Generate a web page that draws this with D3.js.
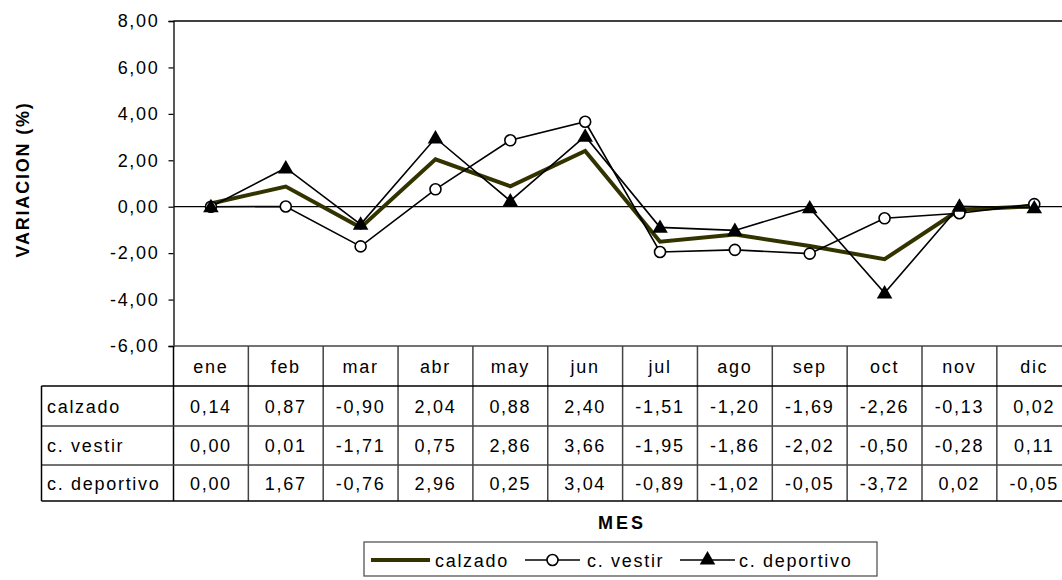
<!DOCTYPE html>
<html><head><meta charset="utf-8">
<script src="https://cdn.jsdelivr.net/npm/d3@7"></script>
<style>
html,body{margin:0;padding:0;background:#fff;overflow:hidden}
svg{display:block;font-family:"Liberation Sans",Arial,sans-serif}
</style></head><body>
<svg id="c" width="1062" height="580"></svg>
<script>
const months = ["ene","feb","mar","abr","may","jun","jul","ago","sep","oct","nov","dic"];
const seriesNames = ["calzado","c. vestir","c. deportivo"];
const calzado = [0.14,0.87,-0.90,2.04,0.88,2.40,-1.51,-1.20,-1.69,-2.26,-0.13,0.02];
const vestir = [0.00,0.01,-1.71,0.75,2.86,3.66,-1.95,-1.86,-2.02,-0.50,-0.28,0.11];
const deportivo = [0.00,1.67,-0.76,2.96,0.25,3.04,-0.89,-1.02,-0.05,-3.72,0.02,-0.05];
const yTicks = [-6,-4,-2,0,2,4,6,8];

const series = [
  {name: seriesNames[0], values: calzado, color: "#333300", width: 4, marker: "none"},
  {name: seriesNames[1], values: vestir, color: "#000", width: 1.6, marker: "circle"},
  {name: seriesNames[2], values: deportivo, color: "#000", width: 1.6, marker: "triangle"}
];

const svg = d3.select("#c");
const fmt = v => d3.format(".2f")(v).replace(".", ",").replace("−","-");
const L = 173.5, colW = 74.85, T = 21, B = 346;
const x = d3.scaleBand().domain(months).range([L, L + colW*12]).padding(0);
const y = d3.scaleLinear().domain([-6, 8]).range([B, T]);
const FS = 18, LS = "1.7px";

// plot border
svg.append("line").attr("x1", L).attr("x2", L + colW*12).attr("y1", T).attr("y2", T).attr("stroke", "#000").attr("stroke-width", 1.3);
// zero line
svg.append("line").attr("x1", L).attr("x2", L + colW*12).attr("y1", y(0)).attr("y2", y(0)).attr("stroke", "#000").attr("stroke-width", 1.2);

// y axis
const yAxis = d3.axisLeft(y).tickValues(yTicks).tickSize(5).tickPadding(9).tickFormat(fmt);
const gy = svg.append("g").attr("transform", `translate(${L},0)`).call(yAxis);
gy.select(".domain").attr("stroke", "#000").attr("stroke-width", 1.3);
gy.selectAll(".tick line").attr("stroke", "#000").attr("stroke-width", 1.2);
gy.selectAll(".tick text").attr("font-size", FS).attr("letter-spacing", LS).attr("fill", "#000")
  .attr("font-family", "Liberation Sans, Arial, sans-serif");

// y label
svg.append("text").attr("transform", `translate(29,${(T+B)/2 - 4}) rotate(-90)`)
  .attr("text-anchor", "middle").attr("font-size", 18).attr("font-weight", "bold").attr("letter-spacing", "1.8px").text("VARIACION (%)");

// lines
const line = d3.line().x((d,i) => x(months[i]) + x.bandwidth()/2).y(d => y(d));
series.forEach(s => {
  svg.append("path").datum(s.values).attr("d", line).attr("fill", "none")
    .attr("stroke", s.color).attr("stroke-width", s.width).attr("stroke-linejoin", "miter");
});
// markers
const tri = d3.symbol().type(d3.symbolTriangle).size(105);
series.forEach(s => {
  if (s.marker === "circle") {
    svg.selectAll(null).data(s.values).enter().append("circle")
      .attr("cx", (d,i) => x(months[i]) + x.bandwidth()/2).attr("cy", d => y(d)).attr("r", 5.5)
      .attr("fill", "#fff").attr("stroke", "#000").attr("stroke-width", 1.6);
  } else if (s.marker === "triangle") {
    svg.selectAll(null).data(s.values).enter().append("path")
      .attr("d", tri).attr("transform", (d,i) => `translate(${x(months[i]) + x.bandwidth()/2},${y(d)+1})`)
      .attr("fill", "#000");
  }
});

// data table
const rowY = [346, 386, 426, 465, 501];
const tbl = svg.append("g");
const gridC = "#444";
months.forEach((m,i) => {
  if (i > 0) tbl.append("line").attr("x1", x(m)).attr("x2", x(m)).attr("y1", rowY[0]).attr("y2", rowY[4]).attr("stroke", gridC).attr("stroke-width", 1.5);
});
tbl.append("line").attr("x1", L).attr("x2", L).attr("y1", rowY[0]).attr("y2", rowY[4]).attr("stroke", "#000").attr("stroke-width", 1.5);
tbl.append("line").attr("x1", L).attr("x2", L+colW*12).attr("y1", rowY[0]).attr("y2", rowY[0]).attr("stroke", gridC).attr("stroke-width", 1.5);
[1,2,3,4].forEach(k => {
  tbl.append("line").attr("x1", 41.5).attr("x2", L+colW*12).attr("y1", rowY[k]).attr("y2", rowY[k])
    .attr("stroke", (k===1||k===4) ? "#000" : gridC).attr("stroke-width", 1.5);
});
tbl.append("line").attr("x1", 41.5).attr("x2", 41.5).attr("y1", rowY[1]).attr("y2", rowY[4]).attr("stroke", "#000").attr("stroke-width", 1.5);
months.forEach(m => {
  tbl.append("text").attr("x", x(m) + x.bandwidth()/2).attr("y", (rowY[0]+rowY[1])/2 + 6.5)
    .attr("text-anchor", "middle").attr("font-size", FS).attr("letter-spacing", LS).text(m);
});
series.forEach((s,k) => {
  const cy = (rowY[k+1]+rowY[k+2])/2 + 6.5;
  tbl.append("text").attr("x", 47).attr("y", cy).attr("font-size", FS).attr("letter-spacing", LS).text(s.name);
  s.values.forEach((v,i) => {
    tbl.append("text").attr("x", x(months[i]) + x.bandwidth()/2).attr("y", cy)
      .attr("text-anchor", "middle").attr("font-size", FS).attr("letter-spacing", LS).text(fmt(v));
  });
});

// x title
svg.append("text").attr("x", 622).attr("y", 529).attr("text-anchor", "middle")
  .attr("font-size", 18).attr("font-weight", "bold").attr("letter-spacing", "3px").text("MES");

// legend
const lg = svg.append("g");
lg.append("rect").attr("x", 364).attr("y", 542).attr("width", 513).attr("height", 34)
  .attr("fill", "#fff").attr("stroke", "#555").attr("stroke-width", 1.3);
const ly = 560;
const legX = [[371, 430, 435], [525, 580, 587], [680, 735, 739]];
series.forEach((s,k) => {
  const [a,b,t] = legX[k];
  lg.append("line").attr("x1", a).attr("x2", b).attr("y1", ly).attr("y2", ly).attr("stroke", s.color).attr("stroke-width", s.width);
  const mx = (a+b)/2;
  if (s.marker === "circle") lg.append("circle").attr("cx", mx).attr("cy", ly).attr("r", 5.5).attr("fill", "#fff").attr("stroke", "#000").attr("stroke-width", 1.6);
  if (s.marker === "triangle") lg.append("path").attr("d", tri).attr("transform", `translate(${mx},${ly})`).attr("fill", "#000");
  lg.append("text").attr("x", t).attr("y", ly + 6.5).attr("font-size", FS).attr("letter-spacing", LS).text(s.name);
});
</script>
</body></html>
